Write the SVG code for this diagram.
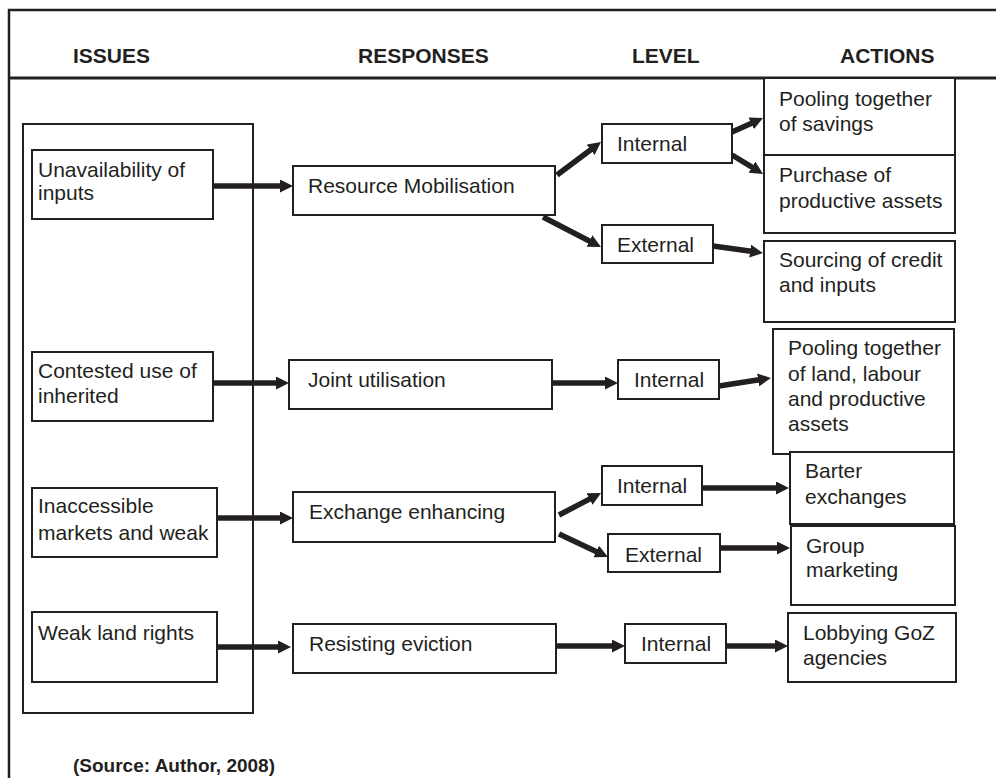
<svg xmlns="http://www.w3.org/2000/svg" width="996" height="778" viewBox="0 0 996 778">
<style>
.frame{stroke:#231f20;stroke-width:2.5;fill:none}
.box{fill:#fff;stroke:#231f20;stroke-width:2}
.hdr{font-family:"Liberation Sans",Arial,sans-serif;font-weight:bold;font-size:21px;fill:#231f20}
.t{font-family:"Liberation Sans",Arial,sans-serif;font-size:21px;fill:#231f20}
.src{font-family:"Liberation Sans",Arial,sans-serif;font-weight:bold;font-size:19px;fill:#231f20}
.arr{stroke:#231f20;stroke-width:5.5;fill:none;marker-end:url(#ah)}
</style>
<defs>
<marker id="ah" markerUnits="userSpaceOnUse" markerWidth="14" markerHeight="13" refX="1" refY="6.5" orient="auto">
<path d="M0,0 L13,6.5 L0,13 z" fill="#231f20"/>
</marker>
</defs>
<rect width="996" height="778" fill="#fff"/>
<g id="frame">
<path class="frame" d="M9,778 V10 H996"/>
<line x1="9" y1="78" x2="996" y2="78" stroke="#231f20" stroke-width="3"/>
<rect class="box" x="23" y="124" width="230" height="589" fill="none"/>
</g>
<g id="headers">
<text class="hdr" x="73" y="63">ISSUES</text>
<text class="hdr" x="358" y="63">RESPONSES</text>
<text class="hdr" x="632" y="63">LEVEL</text>
<text class="hdr" x="840" y="63">ACTIONS</text>
</g>
<g id="connectors">
<line class="arr" x1="213" y1="186" x2="281" y2="186"/>
<line class="arr" x1="213" y1="383" x2="277" y2="383"/>
<line class="arr" x1="217" y1="518" x2="281" y2="518"/>
<line class="arr" x1="217" y1="647" x2="279" y2="647"/>
<line class="arr" x1="557" y1="175" x2="591.4" y2="149.2"/>
<line class="arr" x1="543" y1="217" x2="590.3" y2="241.5"/>
<line class="arr" x1="732" y1="132" x2="752.1" y2="122.9"/>
<line class="arr" x1="732" y1="155" x2="752.8" y2="167.7"/>
<line class="arr" x1="713" y1="246" x2="751.1" y2="251.3"/>
<line class="arr" x1="552" y1="383" x2="606" y2="383"/>
<line class="arr" x1="719" y1="386" x2="759.1" y2="379.8"/>
<line class="arr" x1="559" y1="515" x2="590.4" y2="498.6"/>
<line class="arr" x1="559" y1="534" x2="597.1" y2="551.9"/>
<line class="arr" x1="702" y1="488" x2="777" y2="488"/>
<line class="arr" x1="720" y1="548" x2="778" y2="548"/>
<line class="arr" x1="556" y1="646" x2="613" y2="646"/>
<line class="arr" x1="726" y1="646" x2="776" y2="646"/>
</g>
<g id="issue-inputs">
<rect class="box" x="32" y="150" width="181" height="69"/>
<text class="t" x="38" y="177">Unavailability of</text>
<text class="t" x="38" y="200">inputs</text>
</g>
<g id="issue-inherited">
<rect class="box" x="32" y="352" width="181" height="69"/>
<text class="t" x="38" y="378">Contested use of</text>
<text class="t" x="38" y="403">inherited</text>
</g>
<g id="issue-markets">
<rect class="box" x="32" y="488" width="185" height="69"/>
<text class="t" x="38" y="513">Inaccessible</text>
<text class="t" x="38" y="540">markets and weak</text>
</g>
<g id="issue-land">
<rect class="box" x="32" y="612" width="185" height="70"/>
<text class="t" x="38" y="640">Weak land rights</text>
</g>
<g id="resp-resource">
<rect class="box" x="293" y="166" width="262" height="49"/>
<text class="t" x="308" y="193">Resource Mobilisation</text>
</g>
<g id="resp-joint">
<rect class="box" x="289" y="360" width="263" height="49"/>
<text class="t" x="308" y="387">Joint utilisation</text>
</g>
<g id="resp-exchange">
<rect class="box" x="293" y="492" width="262" height="50"/>
<text class="t" x="309" y="519">Exchange enhancing</text>
</g>
<g id="resp-eviction">
<rect class="box" x="293" y="624" width="263" height="49"/>
<text class="t" x="309" y="651">Resisting eviction</text>
</g>
<g id="level-internal-1">
<rect class="box" x="602" y="124" width="130" height="39"/>
<text class="t" x="617" y="151">Internal</text>
</g>
<g id="level-external-1">
<rect class="box" x="602" y="225" width="111" height="38"/>
<text class="t" x="617" y="252">External</text>
</g>
<g id="level-internal-2">
<rect class="box" x="618" y="360" width="101" height="39"/>
<text class="t" x="634" y="387">Internal</text>
</g>
<g id="level-internal-3">
<rect class="box" x="602" y="466" width="100" height="39"/>
<text class="t" x="617" y="493">Internal</text>
</g>
<g id="level-external-2">
<rect class="box" x="608" y="534" width="112" height="38"/>
<text class="t" x="625" y="562">External</text>
</g>
<g id="level-internal-4">
<rect class="box" x="625" y="624" width="101" height="39"/>
<text class="t" x="641" y="651">Internal</text>
</g>
<g id="act-pooling-savings">
<rect class="box" x="764" y="78" width="191" height="77"/>
<text class="t" x="779" y="106">Pooling together</text>
<text class="t" x="779" y="131">of savings</text>
</g>
<g id="act-purchase">
<rect class="box" x="764" y="155" width="191" height="78"/>
<text class="t" x="779" y="182">Purchase of</text>
<text class="t" x="779" y="208">productive assets</text>
</g>
<g id="act-sourcing">
<rect class="box" x="764" y="241" width="191" height="81"/>
<text class="t" x="779" y="267">Sourcing of credit</text>
<text class="t" x="779" y="292">and inputs</text>
</g>
<g id="act-pooling-land">
<rect class="box" x="773" y="329" width="181" height="125"/>
<text class="t" x="788" y="355">Pooling together</text>
<text class="t" x="788" y="381">of land, labour</text>
<text class="t" x="788" y="406">and productive</text>
<text class="t" x="788" y="431">assets</text>
</g>
<g id="act-barter">
<rect class="box" x="790" y="452" width="164" height="72"/>
<text class="t" x="805" y="478">Barter</text>
<text class="t" x="805" y="504">exchanges</text>
</g>
<g id="act-group">
<rect class="box" x="791" y="526" width="164" height="79"/>
<text class="t" x="806" y="553">Group</text>
<text class="t" x="806" y="577">marketing</text>
</g>
<g id="act-lobbying">
<rect class="box" x="788" y="613" width="168" height="69"/>
<text class="t" x="803" y="640">Lobbying GoZ</text>
<text class="t" x="803" y="665">agencies</text>
</g>
<text class="src" x="73" y="772">(Source: Author, 2008)</text>
</svg>
